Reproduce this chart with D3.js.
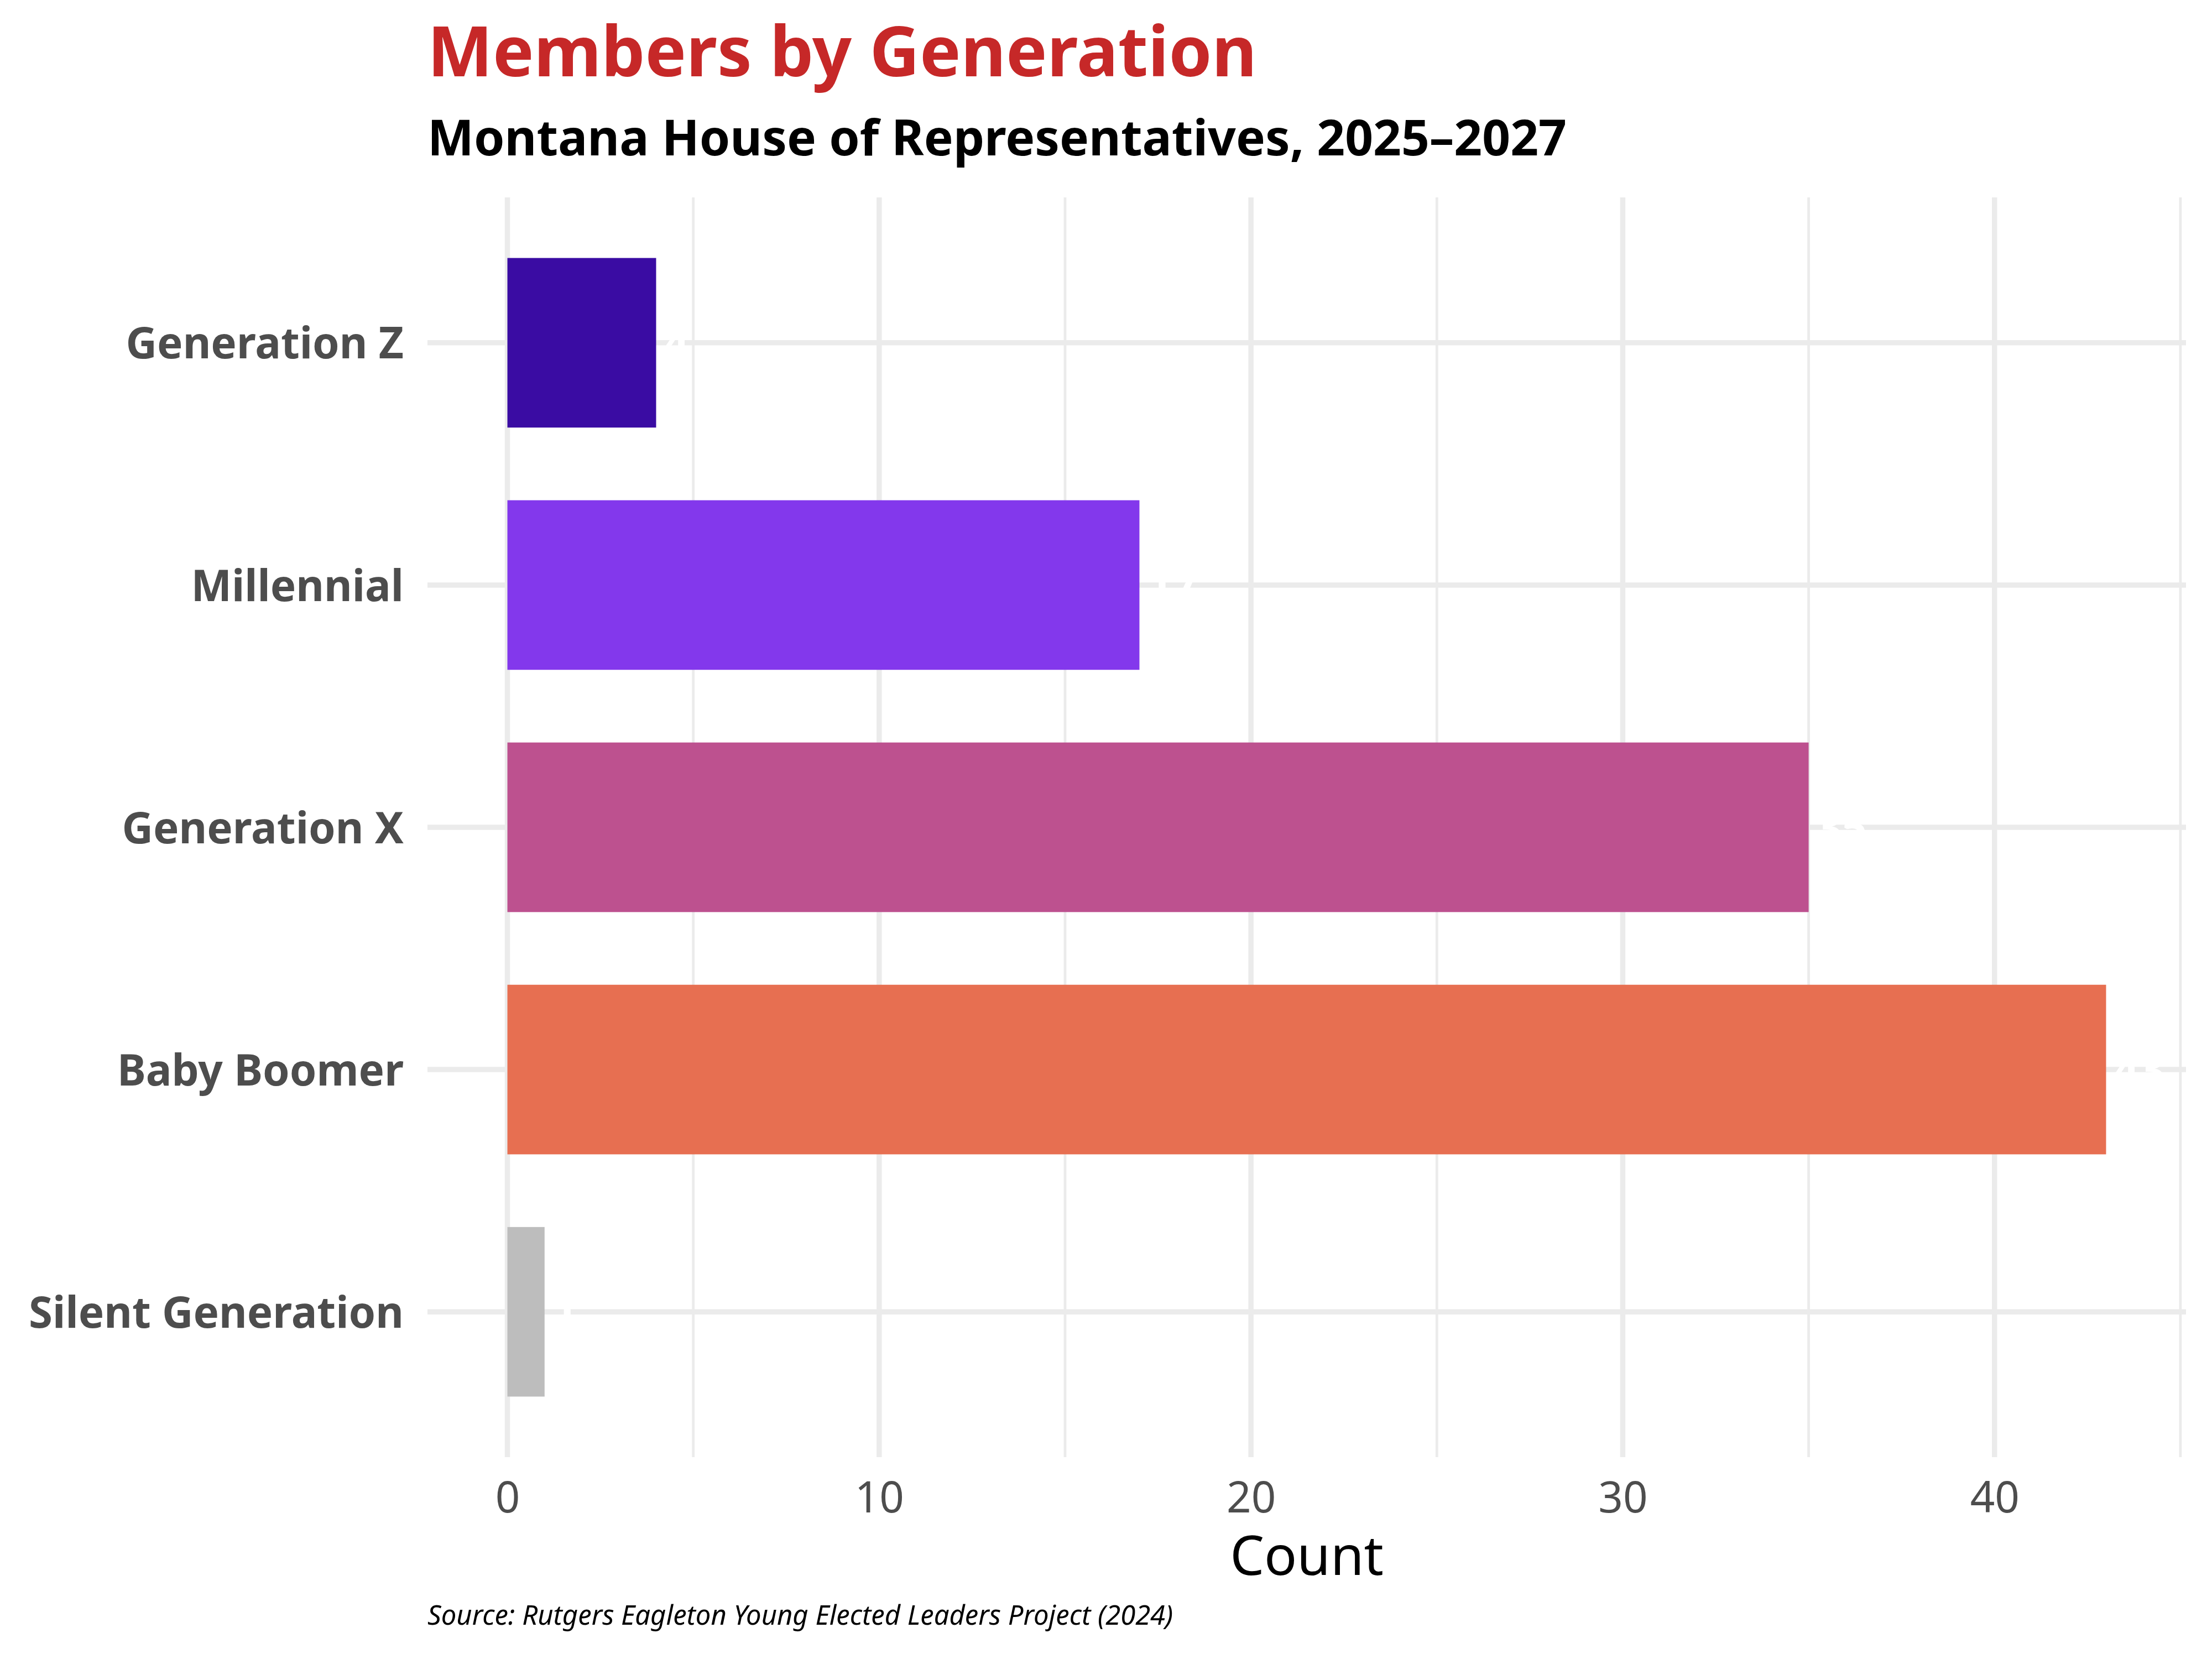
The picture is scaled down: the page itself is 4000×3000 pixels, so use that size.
<!DOCTYPE html>
<html>
<head>
<meta charset="utf-8">
<script src="https://cdn.jsdelivr.net/npm/d3@7"></script>
<style>
  html, body { margin: 0; padding: 0; background: #ffffff; }
  svg { display: block; font-family: "Noto Sans", "Open Sans", sans-serif; }
</style>
</head>
<body>
<svg id="chart" width="4000" height="3000"></svg>
<script>
// ---- data ----
const categories = ["Generation Z", "Millennial", "Generation X", "Baby Boomer", "Silent Generation"];
const counts = [4, 17, 35, 43, 1];
const barColors = ["#3A0CA3", "#8338EC", "#BD518F", "#E76F51", "#BDBDBD"];
const majorTicks = [0, 10, 20, 30, 40];
const minorTicks = [5, 15, 25, 35, 45];
const titleText = "Members by Generation";
const subtitleText = "Montana House of Representatives, 2025\u20132027";
const xTitleText = "Count";
const captionText = "Source: Rutgers Eagleton Young Elected Leaders Project (2024)";

// ---- layout ----
const W = 4000, H = 3000;
const FONT = "'Noto Sans', 'Open Sans', sans-serif";
const panel = { left: 773, right: 3953, top: 357, bottom: 2635 };
const svg = d3.select("#chart");
svg.append("rect").attr("width", W).attr("height", H).attr("fill", "#ffffff");

const maxVal = d3.max(counts);
const x = d3.scaleLinear()
  .domain([-0.05 * maxVal, maxVal * 1.05])
  .range([panel.left, panel.right]);
const y = d3.scalePoint()
  .domain(categories)
  .range([panel.top, panel.bottom])
  .padding(0.6);
const step = y.step();
const barH = step * 0.7;

const grid = svg.append("g");
grid.selectAll("line.minor").data(minorTicks).join("line")
  .attr("x1", d => x(d)).attr("x2", d => x(d))
  .attr("y1", panel.top).attr("y2", panel.bottom)
  .attr("stroke", "#EBEBEB").attr("stroke-width", 4.8);
grid.selectAll("line.majorx").data(majorTicks).join("line")
  .attr("x1", d => x(d)).attr("x2", d => x(d))
  .attr("y1", panel.top).attr("y2", panel.bottom)
  .attr("stroke", "#EBEBEB").attr("stroke-width", 9.5);
grid.selectAll("line.majory").data(categories).join("line")
  .attr("x1", panel.left).attr("x2", panel.right)
  .attr("y1", d => y(d)).attr("y2", d => y(d))
  .attr("stroke", "#EBEBEB").attr("stroke-width", 9.5);

// bars
const data = categories.map((c, i) => ({ cat: c, val: counts[i], color: barColors[i] }));
svg.append("g").selectAll("rect").data(data).join("rect")
  .attr("x", x(0))
  .attr("y", d => y(d.cat) - barH / 2)
  .attr("width", d => x(d.val) - x(0))
  .attr("height", barH)
  .attr("fill", d => d.color);

// value labels (white)
svg.append("g").selectAll("text").data(data).join("text")
  .attr("x", d => x(d.val) + 14)
  .attr("y", d => y(d.cat))
  .attr("dy", "0.36em")
  .attr("fill", "#ffffff")
  .attr("font-family", FONT)
  .attr("font-weight", "bold")
  .attr("font-size", 80)
  .text(d => d.val);

// y axis labels
const yAxis = d3.axisLeft(y).tickSize(0).tickPadding(0);
const yg = svg.append("g").attr("transform", `translate(${730},0)`).call(yAxis);
yg.select(".domain").remove();
yg.selectAll("text")
  .attr("font-family", FONT)
  .attr("font-size", 78)
  .attr("font-weight", "bold")
  .attr("fill", "#4D4D4D")
  .attr("dy", "0.36em");

// x axis labels
const xAxis = d3.axisBottom(x).tickValues(majorTicks).tickSize(0).tickPadding(0).tickFormat(d3.format("d"));
const xg = svg.append("g").attr("transform", `translate(0,${2735})`).call(xAxis);
xg.select(".domain").remove();
xg.selectAll("text")
  .attr("font-family", FONT)
  .attr("font-size", 78)
  .attr("fill", "#4D4D4D")
  .attr("y", 0)
  .attr("dy", 0);

// titles
svg.append("text")
  .attr("x", panel.left).attr("y", 138)
  .attr("font-family", FONT)
  .attr("font-size", 125).attr("font-weight", "bold")
  .attr("fill", "#C62828")
  .text(titleText);
svg.append("text")
  .attr("x", panel.left).attr("y", 281)
  .attr("font-family", FONT)
  .attr("font-size", 89).attr("font-weight", "bold")
  .attr("fill", "#000000")
  .text(subtitleText);
svg.append("text")
  .attr("x", (panel.left + panel.right) / 2).attr("y", 2848)
  .attr("text-anchor", "middle")
  .attr("font-family", FONT)
  .attr("font-size", 98)
  .attr("fill", "#000000")
  .text(xTitleText);
svg.append("text")
  .attr("x", panel.left).attr("y", 2938)
  .attr("font-family", FONT)
  .attr("font-size", 49).attr("font-style", "italic")
  .attr("fill", "#000000")
  .text(captionText);
</script>
</body>
</html>
